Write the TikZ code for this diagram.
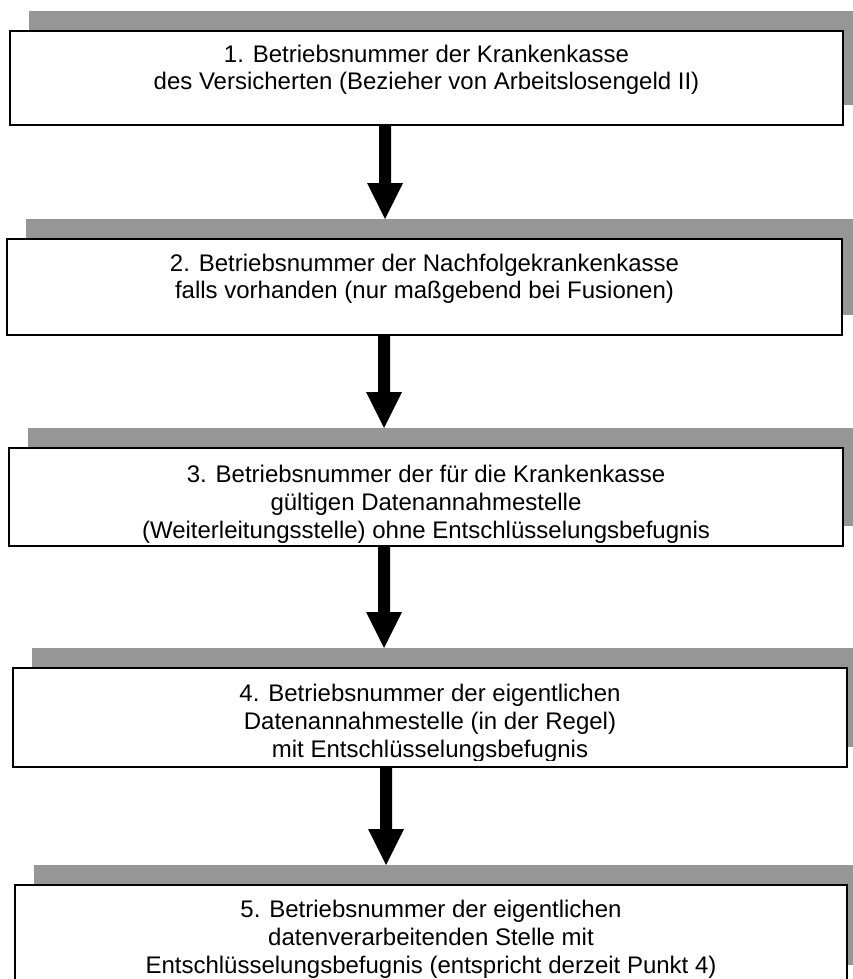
\documentclass[tikz,border=0pt]{standalone}
\usepackage{fontspec}
\setmainfont{Liberation Sans}
\usetikzlibrary{calc,fit}
\definecolor{shade}{RGB}{150,150,150}
\tikzset{
  shadowbox/.style={fill=shade, draw=none, inner sep=0pt, outer sep=0pt},
  panel/.style={draw=black, fill=white, line width=1.8pt, inner sep=0pt, outer sep=0pt},
  txt/.style={font=\fontsize{24pt}{28pt}\selectfont, anchor=base, inner sep=0pt},
  bigarrow/.style={fill=black}
}
% #1 name, #2 left, #3 top, #4 right, #5 bottom
\newcommand\mypanel[5]{%
  \node[shadowbox, fit={({#2+19},{#3-20}) ({#4+19},{#5-20})}] (#1s) {};
  \node[panel, fit={(#2,#3) (#4,#5)}] (#1) {};
}
% #1 x, #2 from node, #3 to node
\newcommand\myarrow[3]{%
  \fill[bigarrow] let \p1=(#2.south), \p2=(#3.north) in
    ({#1pt-6pt},\y1) -- ({#1pt-6pt},{\y2+36pt}) -- ({#1pt-18pt},{\y2+36pt}) --
    ({#1pt},\y2) -- ({#1pt+18pt},{\y2+36pt}) -- ({#1pt+6pt},{\y2+36pt}) --
    ({#1pt+6pt},\y1) -- cycle;
}
\begin{document}
\begin{tikzpicture}[x=1pt,y=-1pt]
\path[use as bounding box] (0,0) rectangle (853,979);
\clip (0,0) rectangle (853,979);

\mypanel{b1}{10}{31}{843}{125}
\mypanel{b2}{7}{239}{842}{335}
\mypanel{b3}{9}{448}{843}{546}
\mypanel{b4}{13}{668}{847}{767}
\mypanel{b5}{15}{885}{847}{985}

\node[txt] (t1a) at ($(b1.north)+(0,32)$) {1. Betriebsnummer der Krankenkasse};
\node[txt] (t1b) at ($(b1.north)+(0,59)$) {des Versicherten (Bezieher von Arbeitslosengeld II)};

\node[txt] (t2a) at ($(b2.north)+(0,32)$) {2. Betriebsnummer der Nachfolgekrankenkasse};
\node[txt] (t2b) at ($(b2.north)+(0,59)$) {falls vorhanden (nur maßgebend bei Fusionen)};

\begin{scope}
\clip (b3.north west) rectangle ($(b3.north east)+(0,94)$);
\node[txt] (t3a) at ($(b3.north)+(0,34)$) {3. Betriebsnummer der für die Krankenkasse};
\node[txt] (t3b) at ($(b3.north)+(0,62)$) {gültigen Datenannahmestelle};
\node[txt] (t3c) at ($(b3.north)+(0,90)$) {(Weiterleitungsstelle) ohne Entschlüsselungsbefugnis};
\end{scope}

\begin{scope}
\clip (b4.north west) rectangle ($(b4.north east)+(0,92)$);
\node[txt] (t4a) at ($(b4.north)+(0,33)$) {4. Betriebsnummer der eigentlichen};
\node[txt] (t4b) at ($(b4.north)+(0,61)$) {Datenannahmestelle (in der Regel)};
\node[txt] (t4c) at ($(b4.north)+(0,89)$) {mit Entschlüsselungsbefugnis};
\end{scope}

\node[txt] (t5a) at ($(b5.north)+(0,32)$) {5. Betriebsnummer der eigentlichen};
\node[txt] (t5b) at ($(b5.north)+(0,60)$) {datenverarbeitenden Stelle mit};
\node[txt] (t5c) at ($(b5.north)+(0,88)$) {Entschlüsselungsbefugnis (entspricht derzeit Punkt 4)};

\myarrow{385}{b1}{b2s}
\myarrow{384}{b2}{b3s}
\myarrow{384}{b3}{b4s}
\myarrow{386}{b4}{b5s}
\end{tikzpicture}
\end{document}
